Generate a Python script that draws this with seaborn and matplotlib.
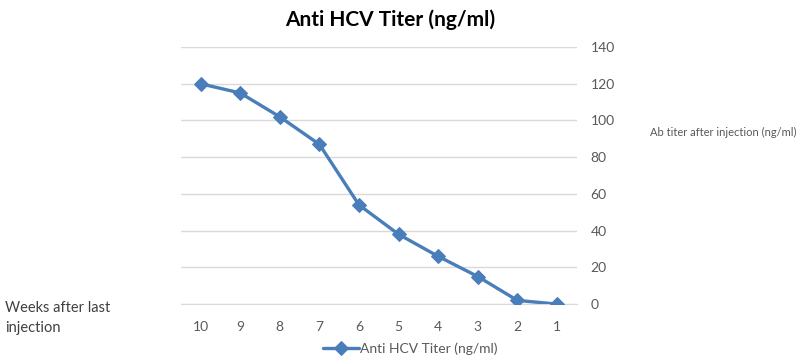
import pandas as pd
import matplotlib.pyplot as plt
import seaborn as sns

# données
weeks = ['10', '9', '8', '7', '6', '5', '4', '3', '2', '1']
titer = [120, 115, 102, 87, 54, 38, 26, 15, 2, 0]
y_ticks = [0, 20, 40, 60, 80, 100, 120, 140]

df = pd.DataFrame({'week': weeks, 'titer': titer})

sns.set_style('white')
plt.rcParams['font.family'] = ['Lato', 'DejaVu Sans']

blue = '#4A7EBB'
grey_txt = '#595959'

fig = plt.figure(figsize=(8, 3.62), dpi=100)
ax = fig.add_axes([0.226, 0.160, 0.495, 0.710])

sns.lineplot(data=df, x='week', y='titer', sort=False, ax=ax, color=blue,
             linewidth=2.4, marker='D', markersize=7, markeredgecolor=blue,
             label='Anti HCV Titer (ng/ml)')

ax.set_xlim(-0.5, len(weeks) - 0.5)
ax.set_ylim(0, 140)
ax.set_yticks(y_ticks)
ax.yaxis.tick_right()
ax.grid(axis='y', color='#D9D9D9', linewidth=1)
ax.grid(axis='x', visible=False)
for s in ['top', 'left', 'right']:
    ax.spines[s].set_visible(False)
ax.spines['bottom'].set_color('#D9D9D9')
ax.spines['bottom'].set_zorder(0)
ax.tick_params(axis='both', length=0, labelsize=10, labelcolor=grey_txt)
ax.tick_params(axis='x', pad=12)
ax.tick_params(axis='y', pad=10)
ax.set_xlabel('')
ax.set_ylabel('')

ax.legend(loc='upper center', bbox_to_anchor=(0.58, -0.1), frameon=False,
          fontsize=10, handlelength=2.6, handletextpad=0.1,
          labelcolor=grey_txt)

fig.text(0.488, 0.945, 'Anti HCV Titer (ng/ml)', ha='center', va='center',
         fontsize=15, fontweight='bold', color='black')
fig.text(0.812, 0.633, 'Ab titer after injection (ng/ml)', ha='left',
         va='center', fontsize=8, color=grey_txt)
fig.text(0.006, 0.121, 'Weeks after last\ninjection', ha='left', va='center',
         fontsize=10.5, color='#404040', linespacing=1.55)

fig.savefig('out.png', dpi=100)
